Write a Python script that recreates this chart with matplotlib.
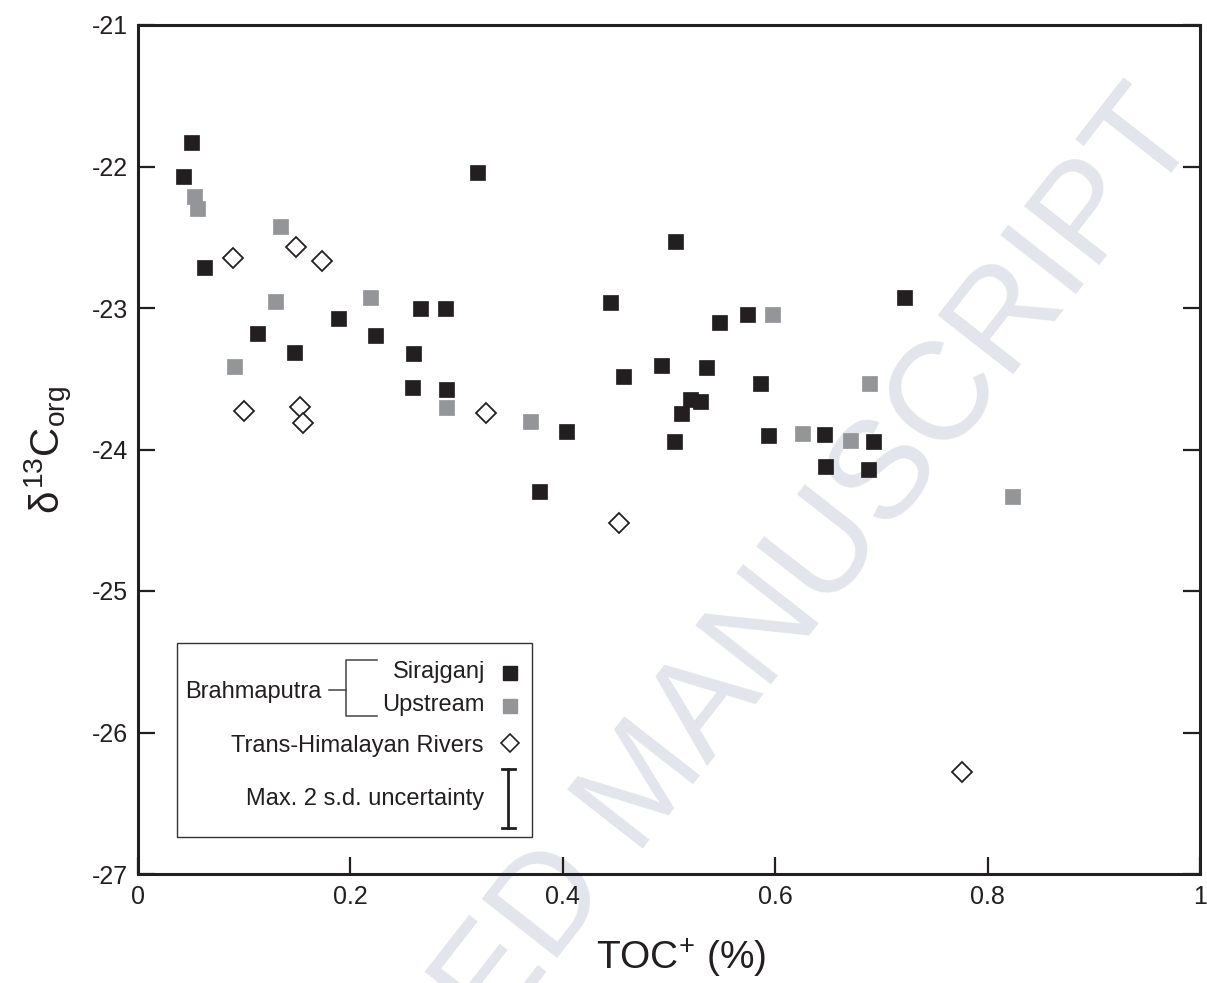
import matplotlib
matplotlib.use("Agg")
import matplotlib.pyplot as plt
from matplotlib.lines import Line2D

plt.rcParams['font.family'] = ['Liberation Sans', 'DejaVu Sans']
plt.rcParams['mathtext.fontset'] = 'custom'
plt.rcParams['mathtext.rm'] = 'Liberation Sans'
plt.rcParams['mathtext.it'] = 'Liberation Sans'
plt.rcParams['mathtext.bf'] = 'Liberation Sans:bold'
plt.rcParams['axes.unicode_minus'] = False

# ---- data ----
sirajganj_toc = [0.050, 0.042, 0.062, 0.319, 0.266, 0.289, 0.188, 0.112, 0.223,
                 0.259, 0.147, 0.258, 0.290, 0.506, 0.444, 0.547, 0.573, 0.492,
                 0.535, 0.457, 0.520, 0.529, 0.511, 0.505, 0.403, 0.378, 0.586,
                 0.593, 0.646, 0.692, 0.647, 0.687, 0.721]
sirajganj_d13c = [-21.83, -22.07, -22.71, -22.04, -23.00, -23.00, -23.07, -23.18, -23.19,
                  -23.32, -23.31, -23.56, -23.57, -22.53, -22.96, -23.10, -23.04, -23.40,
                  -23.42, -23.48, -23.64, -23.66, -23.74, -23.94, -23.87, -24.29, -23.53,
                  -23.90, -23.89, -23.94, -24.12, -24.14, -22.92]

upstream_toc = [0.053, 0.056, 0.134, 0.129, 0.218, 0.090, 0.290, 0.369, 0.597,
                0.688, 0.625, 0.670, 0.823]
upstream_d13c = [-22.21, -22.29, -22.42, -22.95, -22.92, -23.41, -23.70, -23.80, -23.04,
                 -23.53, -23.88, -23.93, -24.33]

transhim_toc = [0.089, 0.149, 0.173, 0.100, 0.153, 0.155, 0.328, 0.453, 0.776]
transhim_d13c = [-22.65, -22.57, -22.67, -23.73, -23.70, -23.81, -23.74, -24.52, -26.28]

x_ticks = [0, 0.2, 0.4, 0.6, 0.8, 1.0]
x_ticklabels = ['0', '0.2', '0.4', '0.6', '0.8', '1']
y_ticks = [-27, -26, -25, -24, -23, -22, -21]

BLACK = '#231f20'
GRAY = '#939598'

fig = plt.figure(figsize=(12.07, 9.83), dpi=100)

# watermark (drawn beneath the axes)
fig.text(0.535, 0.20, 'ACCEPTED MANUSCRIPT', rotation=52, fontsize=100,
         color='#e2e5eb', ha='center', va='center', rotation_mode='anchor',
         zorder=0, family='Liberation Sans')

ax = fig.add_axes([138/1207, 1 - 874/983, (1200-138)/1207, (874-25)/983])
ax.set_zorder(2)
ax.set_facecolor('none')

ms = 10.8
ax.plot(transhim_toc, transhim_d13c, linestyle='none', marker='D', ms=ms*0.97,
        mfc='white', mec=BLACK, mew=1.3, zorder=3)
ax.plot(upstream_toc, upstream_d13c, linestyle='none', marker='s', ms=ms,
        mfc=GRAY, mec=GRAY, mew=0.5, zorder=4)
ax.plot(sirajganj_toc, sirajganj_d13c, linestyle='none', marker='s', ms=ms,
        mfc=BLACK, mec=BLACK, mew=0.5, zorder=5)

ax.set_xlim(0, 1)
ax.set_ylim(-27, -21)
ax.set_xticks(x_ticks)
ax.set_xticklabels(x_ticklabels)
ax.set_yticks(y_ticks)

for s in ax.spines.values():
    s.set_linewidth(2.2)
    s.set_color(BLACK)
ax.tick_params(axis='both', direction='in', length=12, width=1.6, labelsize=18,
               color=BLACK, labelcolor=BLACK)
ax.tick_params(axis='y', right=True, left=True, pad=7)
ax.tick_params(axis='x', top=False, bottom=True, pad=8)

ax.set_xlabel(r'TOC$^{+}$ (%)', fontsize=28, color=BLACK, labelpad=20)
ax.xaxis.label.set_x(0.511)
ax.set_ylabel(r'$\delta^{13}$C$_{\mathregular{org}}$', fontsize=29, color=BLACK, labelpad=12)

# ---- legend box (axes fraction) ----
T = ax.transAxes
box = plt.Rectangle((0.0364, 0.0431), 0.3342, 0.2286, transform=T, fill=True,
                    facecolor='white', edgecolor='#333333', lw=1.0, zorder=6)
ax.add_patch(box)
fs = 17
ax.text(0.3267, 0.2312, 'Sirajganj', transform=T, ha='right', va='baseline', fontsize=fs, color=BLACK, zorder=7)
ax.text(0.3267, 0.1920, 'Upstream', transform=T, ha='right', va='baseline', fontsize=fs, color=BLACK, zorder=7)
ax.text(0.0443, 0.2077, 'Brahmaputra', transform=T, ha='left', va='baseline', fontsize=fs, color=BLACK, zorder=7)
ax.text(0.3258, 0.1440, 'Trans-Himalayan Rivers', transform=T, ha='right', va='baseline', fontsize=fs, color=BLACK, zorder=7)
ax.text(0.3258, 0.0813, 'Max. 2 s.d. uncertainty', transform=T, ha='right', va='baseline', fontsize=fs, color=BLACK, zorder=7)

ax.add_line(Line2D([0.3503], [0.2371], transform=T, marker='s', ms=9.5, mfc=BLACK, mec=BLACK, ls='none', zorder=7))
ax.add_line(Line2D([0.3503], [0.1979], transform=T, marker='s', ms=9.5, mfc=GRAY, mec=GRAY, ls='none', zorder=7))
ax.add_line(Line2D([0.3503], [0.1539], transform=T, marker='D', ms=9, mfc='white', mec=BLACK, mew=1.2, ls='none', zorder=7))

# bracket
bc = '#444444'
ax.add_line(Line2D([0.1801, 0.1959], [0.2167, 0.2167], transform=T, color=bc, lw=1.1, zorder=7))
ax.add_line(Line2D([0.2250, 0.1959, 0.1959, 0.2250], [0.2521, 0.2521, 0.1861, 0.1861], transform=T, color=bc, lw=1.1, zorder=7))

# uncertainty bar
ax.add_line(Line2D([0.3487, 0.3487], [0.0542, 0.1237], transform=T, color=BLACK, lw=2.0, zorder=7))
ax.add_line(Line2D([0.3428, 0.3546], [0.1237, 0.1237], transform=T, color=BLACK, lw=2.0, zorder=7))
ax.add_line(Line2D([0.3428, 0.3546], [0.0542, 0.0542], transform=T, color=BLACK, lw=2.0, zorder=7))

fig.savefig('out.png', dpi=100)
